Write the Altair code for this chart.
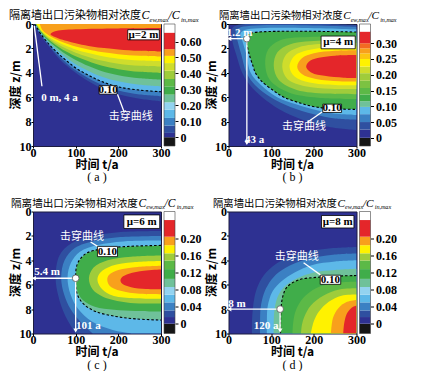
import altair as alt
import pandas as pd

# ---------------- data ----------------
TIME_TICKS = [0, 100, 200, 300]
DEPTH_TICKS = [0, 2, 4, 6, 8, 10]

# Each contour region = set of (z, t) with t >= left edge t_left(z); listed outer -> inner.
# (a) mu = 2 m
A_Z = {
    "dkblue": [0, 1.05, 1.95, 2.8, 3.45, 4.0, 4.7, 5.25, 5.75, 6.12, 6.33],
    "blue":   [0, 0.98, 1.85, 2.6, 3.25, 3.8, 4.45, 4.95, 5.45, 5.78, 5.92],
    "ltblue": [0, 0.9, 1.75, 2.45, 3.05, 3.6, 4.2, 4.7, 5.15, 5.42, 5.55],
    "teal":   [0, 0.82, 1.62, 2.25, 2.8, 3.3, 3.85, 4.3, 4.7, 4.98, 5.12],
    "green":  [0, 0.75, 1.5, 2.05, 2.55, 2.95, 3.45, 3.85, 4.2, 4.45, 4.58],
    "yg":     [0, 0.68, 1.38, 1.88, 2.3, 2.65, 3.05, 3.4, 3.7, 3.92, 4.02],
    "ltyg":   [0, 0.62, 1.25, 1.7, 2.05, 2.35, 2.7, 3.0, 3.25, 3.42, 3.48],
    "yellow": [0, 0.56, 1.13, 1.52, 1.82, 2.08, 2.38, 2.63, 2.85, 3.0, 3.07],
    "orange": [0, 0.5, 1.0, 1.36, 1.62, 1.85, 2.1, 2.3, 2.47, 2.6, 2.66],
    "red":    [0.33, 0.36, 0.38, 0.43, 0.5, 0.62, 0.85, 1.05, 1.18, 1.4, 1.58, 1.8, 1.95, 2.08, 2.2, 2.26],
}
A_T = {
    "dkblue": [2, 20, 40, 60, 80, 100, 130, 160, 200, 250, 300],
    "blue":   [3, 20, 40, 60, 80, 100, 130, 160, 200, 250, 300],
    "ltblue": [4, 20, 40, 60, 80, 100, 130, 160, 200, 250, 300],
    "teal":   [5, 20, 40, 60, 80, 100, 130, 160, 200, 250, 300],
    "green":  [6, 20, 40, 60, 80, 100, 130, 160, 200, 250, 300],
    "yg":     [7, 20, 40, 60, 80, 100, 130, 160, 200, 250, 300],
    "ltyg":   [8, 20, 40, 60, 80, 100, 130, 160, 200, 250, 300],
    "yellow": [9, 20, 40, 60, 80, 100, 130, 160, 200, 250, 300],
    "orange": [16, 22, 40, 60, 80, 100, 130, 160, 200, 250, 300],
    "red":    [300, 200, 150, 100, 70, 50, 41, 50, 60, 80, 100, 130, 160, 200, 250, 300],
}
A_BREAK = "ltblue"

# (b) mu = 4 m
B_Z = {
    "dkblue": [0.08, 0.1, 0.4, 1.2, 2.5, 4.0, 5.0, 6.0, 7.0, 7.8, 8.4, 8.7],
    "blue":   [0.22, 0.25, 0.6, 1.2, 2.5, 4.0, 5.0, 6.0, 6.8, 7.4, 7.75, 7.86],
    "ltblue": [0.44, 0.47, 0.8, 1.2, 2.5, 4.0, 5.0, 6.0, 6.6, 7.1, 7.35, 7.45],
    "green":  [0.66, 0.7, 0.9, 1.2, 2.4, 3.5, 4.0, 4.7, 5.5, 6.0, 6.5, 6.8, 6.95, 7.0],
    "green2": [1.0, 1.05, 1.35, 2.1, 3.3, 4.6, 5.6, 6.05, 6.15],
    "yg":     [1.3, 1.35, 1.65, 2.3, 3.4, 4.6, 5.4, 5.7, 5.75],
    "ltyg":   [1.55, 1.6, 1.9, 2.5, 3.5, 4.5, 5.1, 5.3, 5.32],
    "yellow": [1.85, 1.9, 2.15, 2.6, 3.5, 4.3, 4.8, 5.0, 5.02],
    "orange": [2.15, 2.2, 2.4, 2.8, 3.5, 4.1, 4.5, 4.7, 4.72],
    "red":    [2.55, 2.6, 2.75, 3.0, 3.5, 4.0, 4.25, 4.4, 4.42],
}
B_T = {
    "dkblue": [300, 20, 8, 8, 18, 32, 50, 79, 120, 170, 230, 300],
    "blue":   [300, 30, 17, 20, 30, 42, 62, 99, 145, 200, 250, 300],
    "ltblue": [300, 40, 28, 31, 42, 52, 76, 114, 160, 210, 250, 300],
    "green":  [300, 60, 46, 42, 48, 58, 63, 78, 107, 130, 170, 205, 250, 300],
    "green2": [300, 200, 120, 93, 86, 97, 140, 210, 300],
    "yg":     [300, 220, 145, 115, 106, 118, 160, 230, 300],
    "ltyg":   [300, 230, 165, 135, 126, 138, 180, 240, 300],
    "yellow": [300, 240, 185, 155, 143, 155, 190, 250, 300],
    "orange": [300, 250, 200, 172, 161, 172, 205, 260, 300],
    "red":    [300, 250, 215, 192, 182, 195, 225, 270, 300],
}
B_BREAK = "green"

# (c) mu = 6 m
C_Z = {
    "dkblue": [1.6, 1.7, 2.0, 2.6, 3.6, 5.4, 7.0, 8.5, 10],
    "blue":   [2.0, 2.1, 2.4, 3.0, 4.0, 5.4, 6.8, 8.0, 9.0, 10],
    "ltblue": [2.38, 2.45, 2.75, 3.3, 4.2, 5.4, 6.8, 8.0, 9.0, 9.7, 10],
    "teal":   [2.78, 2.86, 3.06, 3.47, 4.3, 5.47, 6.8, 7.6, 8.2, 8.6, 8.8, 8.9],
    "green":  [2.8, 2.88, 3.08, 3.5, 4.3, 5.47, 6.6, 7.3, 7.8, 8.05, 8.15, 8.2],
    "yg":     [3.6, 3.7, 4.0, 4.6, 5.5, 6.4, 7.0, 7.45, 7.55],
    "yellow": [4.05, 4.15, 4.45, 5.0, 5.55, 6.2, 6.8, 7.1, 7.15],
    "orange": [4.45, 4.55, 4.8, 5.2, 5.6, 6.1, 6.5, 6.75, 6.8],
    "red":    [4.75, 4.85, 5.1, 5.4, 5.65, 5.95, 6.2, 6.35, 6.38],
}
C_T = {
    "dkblue": [300, 200, 140, 90, 62, 53, 60, 75, 100],
    "blue":   [300, 205, 145, 98, 74, 66, 73, 88, 110, 140],
    "ltblue": [300, 212, 152, 110, 89, 81, 88, 106, 137, 185, 230],
    "teal":   [300, 225, 162, 123, 104, 100, 104, 119, 147, 194, 240, 300],
    "green":  [300, 225, 162, 124, 105, 101, 105, 118, 145, 190, 240, 300],
    "yg":     [300, 230, 175, 142, 131, 140, 165, 220, 300],
    "yellow": [300, 235, 185, 158, 151, 158, 180, 225, 300],
    "orange": [300, 245, 200, 178, 174, 180, 205, 250, 300],
    "red":    [300, 260, 225, 208, 205, 210, 230, 265, 300],
}
C_BREAK = "teal"

# (d) mu = 8 m
D_Z = {
    "dkblue": [2.9, 3.0, 3.3, 4.0, 5.0, 6.0, 7.0, 8.0, 9.0, 10],
    "blue":   [3.45, 3.55, 3.9, 4.6, 5.4, 6.3, 7.2, 8.0, 9.0, 10],
    "ltblue": [4.0, 4.1, 4.4, 5.0, 5.7, 6.5, 7.3, 8.0, 9.0, 10],
    "teal":   [4.7, 4.8, 5.0, 5.5, 6.2, 7.0, 8.0, 9.0, 10],
    "green":  [5.25, 5.3, 5.4, 5.6, 6.2, 7.0, 8.0, 9.0, 10],
    "green2": [5.75, 5.85, 6.3, 7.1, 8.1, 9.0, 10],
    "yg":     [6.3, 6.4, 6.9, 7.7, 8.6, 9.3, 10],
    "yellow": [6.8, 6.9, 7.4, 8.2, 9.0, 10],
    "orange": [7.25, 7.4, 7.9, 8.7, 10],
    "red":    [7.7, 7.9, 8.4, 9.2, 10],
}
D_T = {
    "dkblue": [300, 245, 185, 125, 88, 70, 61, 57, 55, 55],
    "blue":   [300, 245, 185, 135, 105, 88, 79, 75, 74, 74],
    "ltblue": [300, 250, 195, 155, 125, 104, 95, 91, 90, 90],
    "teal":   [300, 250, 200, 160, 130, 115, 108, 106, 106],
    "green":  [300, 250, 205, 165, 137, 127, 123, 122, 122],
    "green2": [300, 250, 205, 175, 158, 152, 150],
    "yg":     [300, 260, 222, 193, 178, 172, 170],
    "yellow": [300, 265, 235, 212, 200, 193],
    "orange": [300, 278, 258, 245, 240],
    "red":    [300, 288, 277, 271, 269],
}
D_BREAK = "green"

# colour bars: band edges and band colours (bottom -> top), tick labels
A_CB_EDGES = [-0.055, 0, 0.027, 0.073, 0.121, 0.173, 0.219, 0.267, 0.319, 0.365, 0.417, 0.465, 0.51, 0.552, 0.656, 0.71]
A_CB_BANDS = ["black", "navy", "dkblue", "blue", "ltblue", "pale", "teal", "green", "green2", "yg", "ltyg", "yellow", "orange", "red", "white"]
A_CB_TICKS = [0, 0.1, 0.2, 0.3, 0.4, 0.5, 0.6]
B_CB_EDGES = [-0.026, 0, 0.026, 0.05, 0.075, 0.098, 0.116, 0.137, 0.158, 0.181, 0.205, 0.226, 0.25, 0.268, 0.284, 0.3, 0.337, 0.361]
B_CB_BANDS = ["black", "navy", "dkblue", "blue", "ltblue", "teal", "green", "green2", "green3", "yg", "ltyg", "yellow", "yorange", "orange", "orangered", "red", "white"]
B_CB_TICKS = [0, 0.05, 0.1, 0.15, 0.2, 0.25, 0.3]
C_CB_EDGES = [-0.023, 0, 0.0156, 0.031, 0.05, 0.068, 0.086, 0.105, 0.128, 0.148, 0.165, 0.184, 0.204, 0.243, 0.263]
C_CB_BANDS = ["black", "navy", "dkblue", "blue", "ltblue", "pale", "teal", "green", "green2", "yg", "yellow", "orange", "red", "white"]
C_CB_TICKS = [0, 0.04, 0.08, 0.12, 0.16, 0.2]
D_CB_EDGES = [-0.023, 0, 0.0156, 0.031, 0.05, 0.068, 0.086, 0.105, 0.128, 0.148, 0.165, 0.184, 0.204, 0.243, 0.263]
D_CB_BANDS = ["black", "navy", "dkblue", "blue", "ltblue", "pale", "teal", "green", "green2", "yg", "yellow", "orange", "red", "white"]
D_CB_TICKS = [0, 0.04, 0.08, 0.12, 0.16, 0.2]

# annotations (time a, depth m)
A_ANN = dict(
    lines=[(3, 0.15, 21, 5.1), (198, 5.75, 214, 7.25)],
    point=None, heads=[],
    boxes=[(222, 0.47, 296, 1.3, "μ=2 m"), (155, 5.05, 197, 5.75, "0.10")],
    texts=[(62, 6.06, "0 m, 4 a", "s"), (229, 7.65, "击穿曲线", "c")],
)
B_ANN = dict(
    lines=[(43, 1.2, 1.5, 1.2), (43, 1.2, 43, 9.8), (185, 8.05, 220, 7.2)],
    point=(43, 1.2), heads=[(2, 1.2, "triangle-left"), (43, 9.75, "triangle-down")],
    boxes=[(217, 0.99, 297, 2.03, "μ=4 m"), (221, 6.57, 265, 7.25, "0.10")],
    texts=[(26, 0.72, "1.2 m", "s"), (61, 9.5, "43 a", "s"), (177, 8.46, "击穿曲线", "c")],
)
C_ANN = dict(
    lines=[(100, 5.47, 1.5, 5.47), (100, 5.47, 100, 9.8), (135, 2.5, 158, 3.0)],
    point=(100, 5.47), heads=[(2, 5.47, "triangle-left"), (100, 9.75, "triangle-down")],
    boxes=[(213, 0.28, 297, 1.39, "μ=6 m"), (151, 2.86, 198, 3.7, "0.10")],
    texts=[(33, 4.95, "5.4 m", "s"), (130, 9.36, "101 a", "s"), (115, 2.05, "击穿曲线", "c")],
)
D_ANN = dict(
    lines=[(121, 8.0, 1.5, 8.0), (121, 8.0, 121, 9.8), (176, 4.2, 222, 5.36)],
    point=(121, 8.0), heads=[(2, 8.0, "triangle-left"), (121, 9.75, "triangle-down")],
    boxes=[(218, 0.33, 294, 1.35, "μ=8 m"), (215, 5.22, 263, 5.97, "0.10")],
    texts=[(20, 7.55, "8 m", "s"), (88, 9.42, "120 a", "s"), (160, 3.72, "击穿曲线", "c")],
)

TITLE_CN = "隔离墙出口污染物相对浓度"
X_TITLE = "时间 t/a"
Y_TITLE = "深度 z/m"

# ---------------- styles ----------------
PALETTE = {
    "black": "#161616", "navy": "#2e3192", "dkblue": "#2f4fa0", "blue": "#3b80c3",
    "ltblue": "#5db8e8", "pale": "#93d3f0", "teal": "#6fc19a", "green": "#40ad4a",
    "green2": "#5cb947", "green3": "#7cc242", "yg": "#9fcc3b", "ltyg": "#cfdd2c",
    "yellow": "#fff200", "yorange": "#fcc511", "orange": "#f8a01c",
    "orangered": "#f26a22", "red": "#e4262a", "white": "#ffffff",
}
SERIF = "Liberation Serif"
CJK = "Noto Sans CJK SC"
W, H = 128, 122
DUMMY = pd.DataFrame({"k": [0]})

XS = alt.Scale(domain=[0, 300], nice=False, zero=False)
YS = alt.Scale(domain=[0, 10], reverse=True, nice=False, zero=False)
AX_COMMON = dict(title=None, grid=False, domain=False, labelFont=SERIF, labelFontWeight="bold",
                 labelFontSize=12, labelColor="black", tickColor="black", tickSize=2)
XAX = alt.Axis(values=TIME_TICKS, labelPadding=-1, labelFlush=False, **AX_COMMON)
YAX = alt.Axis(values=DEPTH_TICKS, labelPadding=0, **AX_COMMON)


def X(f):
    return alt.X(f, scale=XS, axis=XAX)


def Y(f):
    return alt.Y(f, scale=YS, axis=YAX)


def text_at(s, px, py, **kw):
    return alt.Chart(DUMMY).mark_text(text=s, **kw).encode(x=alt.value(px), y=alt.value(py))


def make_panel(Z, T, brk, cb_edges, cb_bands, cb_ticks, ann, tx, tk, tb, caption):
    layers = []
    for key in Z:
        df = pd.DataFrame({"z": Z[key], "t": T[key]})
        layers.append(
            alt.Chart(df).mark_area(orient="horizontal", interpolate="catmull-rom",
                                    color=PALETTE[key], clip=True)
            .encode(x=X("t:Q"), x2=alt.datum(300), y=Y("z:Q"))
        )
    bdf = pd.DataFrame({"z": Z[brk], "t": T[brk]})
    layers.append(
        alt.Chart(bdf).mark_line(interpolate="catmull-rom", color="black", strokeWidth=1.1,
                                 strokeDash=[2.5, 2], clip=True)
        .encode(x=X("t:Q"), y=Y("z:Q"), order="z:Q")
    )
    ldf = pd.DataFrame(ann["lines"], columns=["t", "z", "t2", "z2"])
    layers.append(alt.Chart(ldf).mark_rule(color="white", strokeWidth=1.3)
                  .encode(x=X("t:Q"), x2="t2:Q", y=Y("z:Q"), y2="z2:Q"))
    if ann["heads"]:
        hdf = pd.DataFrame(ann["heads"], columns=["t", "z", "shape"])
        layers.append(alt.Chart(hdf).mark_point(filled=True, color="white", size=22, opacity=1)
                      .encode(x=X("t:Q"), y=Y("z:Q"),
                              shape=alt.Shape("shape:N", scale=None)))
    if ann["point"] is not None:
        pdf = pd.DataFrame([ann["point"]], columns=["t", "z"])
        layers.append(alt.Chart(pdf).mark_point(filled=True, fill="white", stroke="#555",
                                                strokeWidth=0.8, size=45, opacity=1)
                      .encode(x=X("t:Q"), y=Y("z:Q")))
    bxdf = pd.DataFrame(ann["boxes"], columns=["t", "z", "t2", "z2", "s"])
    bxdf["tc"] = (bxdf["t"] + bxdf["t2"]) / 2
    bxdf["zc"] = (bxdf["z"] + bxdf["z2"]) / 2
    layers.append(alt.Chart(bxdf).mark_rect(fill="white", stroke="black", strokeWidth=0.8)
                  .encode(x=X("t:Q"), x2="t2:Q", y=Y("z:Q"), y2="z2:Q"))
    layers.append(alt.Chart(bxdf).mark_text(font=SERIF, fontWeight="bold", fontSize=11,
                                            color="black", baseline="middle")
                  .encode(x=X("tc:Q"), y=Y("zc:Q"), text="s:N"))
    tdf = pd.DataFrame(ann["texts"], columns=["t", "z", "s", "f"])
    for f, font, wt in (("s", SERIF, "bold"), ("c", CJK, "normal")):
        sub = tdf[tdf["f"] == f]
        if len(sub):
            layers.append(alt.Chart(sub).mark_text(font=font, fontWeight=wt, fontSize=11,
                                                   color="white", baseline="middle")
                          .encode(x=X("t:Q"), y=Y("z:Q"), text="s:N"))
    # titles, axis titles, caption
    layers.append(text_at(TITLE_CN, tx, tb, font=CJK, fontSize=11 * tk, align="left", baseline="alphabetic"))
    layers.append(text_at("C", tx + 132.5 * tk, tb, font=SERIF, fontStyle="italic", fontSize=12 * tk, align="left", baseline="alphabetic"))
    layers.append(text_at("ew,max", tx + 140.5 * tk, tb + 2.5, font=SERIF, fontStyle="italic", fontSize=6.5 * tk, align="left", baseline="alphabetic"))
    layers.append(text_at("/C", tx + 159.5 * tk, tb, font=SERIF, fontStyle="italic", fontSize=12 * tk, align="left", baseline="alphabetic"))
    layers.append(text_at("in,max", tx + 172 * tk, tb + 2.5, font=SERIF, fontStyle="italic", fontSize=6.5 * tk, align="left", baseline="alphabetic"))
    layers.append(text_at(X_TITLE, W / 2, H + 18.5, font=CJK, fontWeight="bold", fontSize=12, baseline="middle"))
    layers.append(text_at(Y_TITLE, -17, H / 2, font=CJK, fontWeight="bold", fontSize=12, baseline="middle", angle=270))
    layers.append(text_at(caption, W / 2, H + 31, font=SERIF, fontSize=12, baseline="middle"))
    contour = alt.layer(*layers)

    cdf = pd.DataFrame({"lo": cb_edges[:-1], "hi": cb_edges[1:], "band": cb_bands})
    cb = alt.Chart(cdf).mark_rect().encode(
        x=alt.value(W + 3), x2=alt.value(W + 14),
        y=alt.Y("lo:Q", scale=alt.Scale(domain=[cb_edges[0], cb_edges[-1]], nice=False, zero=False),
                axis=alt.Axis(orient="right", offset=14, values=cb_ticks, title=None, grid=False,
                              domain=False, labelFont=SERIF, labelFontWeight="bold", labelFontSize=12,
                              labelColor="black", tickColor="black", tickSize=3, labelPadding=2,
                              labelExpr="datum.value == 0 ? '0' : format(datum.value, '.2f')")),
        y2="hi:Q",
        color=alt.Color("band:N", scale=alt.Scale(domain=list(PALETTE.keys()), range=list(PALETTE.values())),
                        legend=None),
    )
    frame = alt.Chart(DUMMY).mark_rect(filled=False, stroke="#444", strokeWidth=0.6).encode(
        x=alt.value(W + 3), x2=alt.value(W + 14), y=alt.value(0), y2=alt.value(H))
    return alt.layer(contour, alt.layer(cb, frame)).resolve_scale(y="independent").properties(width=W, height=H)


pa = make_panel(A_Z, A_T, A_BREAK, A_CB_EDGES, A_CB_BANDS, A_CB_TICKS, A_ANN, -24, 1.0, -5, "( a )")
pb = make_panel(B_Z, B_T, B_BREAK, B_CB_EDGES, B_CB_BANDS, B_CB_TICKS, B_ANN, -9.5, 0.937, -5, "( b )")
pc = make_panel(C_Z, C_T, C_BREAK, C_CB_EDGES, C_CB_BANDS, C_CB_TICKS, C_ANN, -22, 0.963, -5, "( c )")
pd_ = make_panel(D_Z, D_T, D_BREAK, D_CB_EDGES, D_CB_BANDS, D_CB_TICKS, D_ANN, -15.5, 0.94, -5, "( d )")

chart = alt.concat(pa, pb, pc, pd_, columns=2, spacing={"row": 65.5, "column": 67.5},
                   bounds="flush").properties(padding=0).configure_view(
    fill=PALETTE["navy"], stroke="#1c1c40", strokeWidth=1)

chart.save("out.html", embed_options={"renderer": "svg", "actions": False})
